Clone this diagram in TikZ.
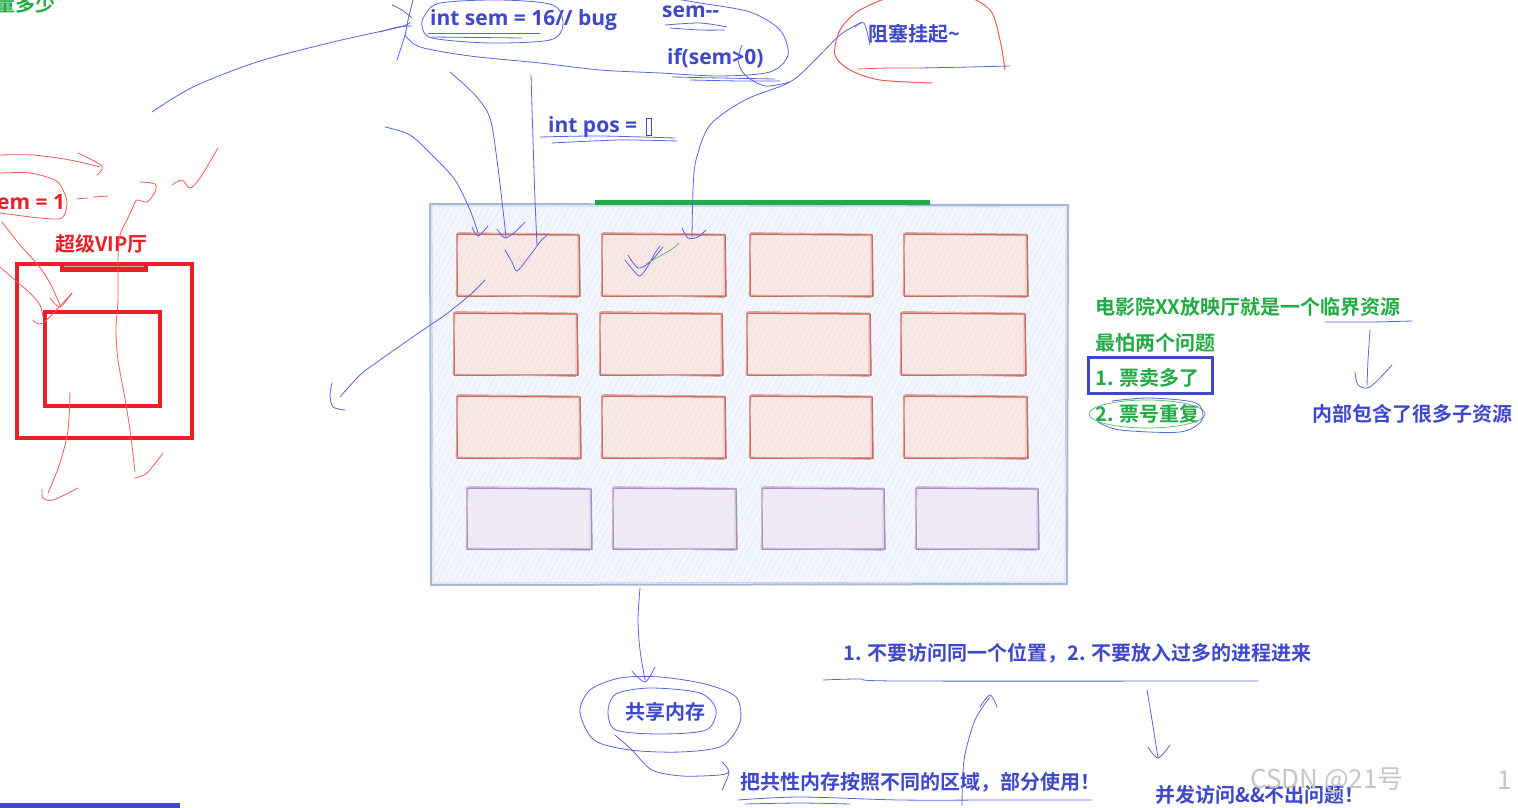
\documentclass[tikz,border=0pt]{standalone}
\usepackage{fontspec}
\setmainfont{Noto Sans CJK SC}[BoldFont={Noto Sans CJK SC Bold}]
\newfontfamily\latinf{Open Sans}
\usetikzlibrary{patterns.meta}
\definecolor{tblue}{RGB}{62,72,204}
\definecolor{tgreen}{RGB}{34,170,68}
\definecolor{tred}{RGB}{232,32,40}
\definecolor{sblue}{RGB}{88,100,224}
\definecolor{sred}{RGB}{240,90,90}
\definecolor{bigfill}{RGB}{243,247,253}
\definecolor{bigline}{RGB}{165,185,215}
\definecolor{redline}{RGB}{200,105,95}
\definecolor{redfill}{RGB}{250,232,230}
\definecolor{purline}{RGB}{170,140,190}
\definecolor{purfill}{RGB}{238,235,246}
\definecolor{gbar}{RGB}{34,172,72}
\newcommand\skbox[6]{%
  \fill[#6] (#1,#2) rectangle (#3,#4);
  \fill[pattern={Lines[angle=62,distance=5pt,line width=0.5pt]},pattern color={#5!22}] (#1,#2) rectangle (#3,#4);
  \draw[#5,line width=1.5pt,line join=round] (#1,#2) -- (#3,#2+1) -- (#3+1,#4) -- (#1,#4) -- cycle;
  \draw[#5!60,line width=0.8pt,line join=round] (#1+1,#2-1.5) -- (#3-1,#2) -- (#3-1,#4+1.5) -- (#1-1,#4-1) -- cycle;
}
\begin{document}
\begin{tikzpicture}[x=1pt,y=-1pt,
  txt/.style={font=\bfseries\fontsize{20}{22}\selectfont,inner sep=0pt,anchor=west},
  ltxt/.style={font=\latinf\bfseries\fontsize{21}{24}\selectfont,inner sep=0pt,anchor=west},
  sk/.style={sblue,line width=0.8pt,line cap=round,line join=round},
  skr/.style={sred,line width=0.8pt,line cap=round,line join=round},
  skg/.style={tgreen!80,line width=0.7pt,line cap=round,line join=round}]
\useasboundingbox[fill=white] (0,0) rectangle (1518,808);

% ---- big hall ----
\fill[bigfill] (430,204) rectangle (1068,585);
\fill[pattern={Lines[angle=62,distance=5pt,line width=0.4pt]},pattern color={bigline!35}] (430,204) rectangle (1068,585);
\draw[bigline,line width=2pt] (430,204) -- (1068,205) -- (1067,584) -- (431,585) -- cycle;
\draw[bigline!60,line width=0.8pt] (432,206) -- (1066,207) -- (1065,582) -- (433,583) -- cycle;
\draw[gbar,line width=5pt] (595,202) -- (930,202);

% seats
\skbox{457}{234}{579}{296}{redline}{redfill}
\skbox{602}{234}{725}{296}{redline}{redfill}
\skbox{750}{234}{872}{296}{redline}{redfill}
\skbox{904}{234}{1027}{296}{redline}{redfill}
\skbox{454}{313}{577}{375}{redline}{redfill}
\skbox{600}{313}{722}{375}{redline}{redfill}
\skbox{747}{313}{870}{375}{redline}{redfill}
\skbox{901}{313}{1025}{375}{redline}{redfill}
\skbox{457}{396}{580}{458}{redline}{redfill}
\skbox{602}{396}{725}{458}{redline}{redfill}
\skbox{750}{396}{872}{458}{redline}{redfill}
\skbox{904}{396}{1027}{458}{redline}{redfill}
\skbox{467}{488}{591}{549}{purline}{purfill}
\skbox{613}{488}{736}{549}{purline}{purfill}
\skbox{762}{488}{884}{549}{purline}{purfill}
\skbox{916}{488}{1038}{549}{purline}{purfill}

% ---- VIP hall ----
\draw[tred,line width=4pt] (17,264) rectangle (192,438);
\draw[tred,line width=4pt] (45,312) rectangle (160,406);
\fill[tred] (60,262) rectangle (148,272);
\draw[white!55!tred,line width=1pt] (64,266) -- (144,266);
\fill[tblue] (0,803) rectangle (180,808);

% ---- texts ----
\node[txt,tgreen,anchor=east] (t0) at (56,4) {量多少};
\node[ltxt,tred] (t1) at (-3,202) {em = 1};
\node[txt,tred] (vip) at (55,244) {超级VIP厅};
\node[ltxt,tblue] (isem) at (430,20) {int sem = 16// bug};
\node[ltxt,tblue] (semm) at (662,12) {sem-{}-};
\node[ltxt,tblue] (ifs) at (667,58) {if(sem>0)};
\node[txt,tblue] (zs) at (868,34) {阻塞挂起\textasciitilde};
\node[ltxt,tblue] (ipos) at (548,127) {int pos =};
\draw[tblue,line width=1pt] (646,118) rectangle (651,135);
\node[txt,tgreen] (g1) at (1095,307) {电影院XX放映厅就是一个临界资源};
\node[txt,tgreen] (g2) at (1095,343) {最怕两个问题};
\node[txt,tgreen] (g3) at (1095,378) {1. 票卖多了};
\node[txt,tgreen] (g4) at (1095,414) {2. 票号重复};
\draw[tblue,line width=3pt] (1088,357) rectangle (1212,393);
\node[txt,tblue] (sub) at (1312,414) {内部包含了很多子资源};
\node[txt,tblue] (rule) at (843,653) {1. 不要访问同一个位置，2. 不要放入过多的进程进来};
\node[txt,tblue] (shm) at (625,712) {共享内存};
\node[txt,tblue] (part) at (740,782) {把共性内存按照不同的区域，部分使用！};
\node[txt,tblue] (conc) at (1155,795) {并发访问\&\&不出问题！};
\node[font=\fontsize{26}{28}\selectfont,gray!45,anchor=west,inner sep=0pt] (wm) at (1250,780) {CSDN @21号};
\node[font=\fontsize{26}{28}\selectfont,gray!45,anchor=west,inner sep=0pt] (wm2) at (1497,780) {1};

% ---- blue sketch strokes ----
\draw[sk] plot[smooth] coordinates {(152,112) (193,87) (257,62) (333,42) (400,27) (410,22)};
\draw[sk] plot[smooth] coordinates {(413,0) (408,20) (405,35) (397,60)};
\draw[sk] plot[smooth] coordinates {(392,5) (402,10) (412,18)};
\draw[sk] plot[smooth] coordinates {(380,32) (398,27) (412,26)};
\draw[sk] plot[smooth cycle] coordinates {(425,15) (440,3) (500,0) (553,5) (563,25) (550,40) (490,43) (432,38) (422,26)};
\draw[sk] (428,33) -- (540,33);
\draw[sk] (432,37) -- (522,38);
\draw[sk] plot[smooth] coordinates {(405,35) (420,47) (470,56) (540,63) (600,70) (660,73) (720,76) (770,72) (788,55) (780,30) (750,12) (700,3) (670,-2)};
\draw[sk] plot[smooth] coordinates {(665,25) (700,23) (727,27)};
\draw[sk] plot[smooth] coordinates {(670,28) (700,30) (725,30)};
\draw[sk] plot[smooth] coordinates {(672,77) (720,78) (775,79)};
\draw[sk] plot[smooth] coordinates {(690,80) (740,81) (780,81)};
\draw[sk] plot[smooth] coordinates {(742,45) (738,60) (745,75) (765,86) (790,82)};
\draw[sk] plot[smooth] coordinates {(540,137) (600,136) (675,138)};
\draw[sk] plot[smooth] coordinates {(552,143) (620,140) (677,141)};
% arrows into seats
\draw[sk] plot[smooth] coordinates {(531,75) (533,140) (535,200) (537,245)};
\draw[sk] plot[smooth] coordinates {(505,250) (512,262) (517,271) (528,258) (540,242) (547,235)};
\draw[sk] plot[smooth] coordinates {(450,72) (475,95) (490,118) (497,160) (503,210) (506,237)};
\draw[sk] plot[smooth] coordinates {(497,229) (505,238) (515,232) (525,222)};
\draw[sk] plot[smooth] coordinates {(385,127) (410,135) (434,157) (455,180) (470,210) (478,233)};
\draw[sk] plot[smooth] coordinates {(472,227) (478,236) (488,226)};
\draw[sk] plot[smooth] coordinates {(692,237) (693,190) (696,160) (710,125) (745,100) (790,82) (815,60) (840,35) (862,22)};
\draw[sk] plot[smooth] coordinates {(855,27) (864,23) (870,45)};
\draw[sk] plot[smooth] coordinates {(682,228) (688,238) (698,237) (706,230)};
\draw[sk] plot[smooth] coordinates {(920,68) (970,67) (1010,66)};
\draw[sk] plot[smooth] coordinates {(485,280) (470,295) (445,315) (420,332) (380,360) (360,375) (340,397)};
\draw[sk] plot[smooth] coordinates {(332,383) (330,395) (333,407) (345,410)};
% tick in seat 2
\draw[sk] plot[smooth] coordinates {(625,260) (633,270) (640,276) (648,266) (655,253) (660,246)};
\draw[sk] plot[smooth] coordinates {(628,255) (638,268) (650,262) (663,247)};
\draw[skg] plot[smooth] coordinates {(646,264) (660,256) (672,249) (679,243)};
% shared memory
\draw[sk] plot[smooth] coordinates {(640,588) (638,620) (640,650) (645,680)};
\draw[sk] plot[smooth] coordinates {(632,671) (645,682) (655,667)};
\draw[sk] plot[smooth cycle] coordinates {(580,712) (590,690) (620,678) (660,677) (705,684) (736,697) (740,722) (722,746) (680,752) (630,750) (594,740)};
\draw[sk] plot[smooth cycle] coordinates {(608,712) (616,694) (650,688) (700,693) (716,710) (706,730) (660,734) (616,730)};
\draw[sk] plot[smooth] coordinates {(615,735) (632,750) (652,770) (682,776) (720,775) (729,772)};
\draw[sk] plot[smooth] coordinates {(722,762) (729,772) (722,790)};
\draw[sk] plot[smooth] coordinates {(738,800) (800,797) (900,800) (1000,800) (1092,800)};
\draw[sk] plot[smooth] coordinates {(745,804) (800,803) (850,804)};
\draw[sk] plot[smooth] coordinates {(962,806) (964,760) (975,720) (990,697)};
\draw[sk] plot[smooth] coordinates {(980,707) (990,695) (997,707)};
\draw[sk] plot[smooth] coordinates {(1147,690) (1152,720) (1158,758)};
\draw[sk] plot[smooth] coordinates {(1148,747) (1158,758) (1170,745)};
\draw[sk] plot[smooth] coordinates {(823,680) (860,679) (900,681) (1258,681)};
% right side
\draw[sk] plot[smooth] coordinates {(1325,322) (1370,322) (1412,321)};
\draw[sk] plot[smooth] coordinates {(1370,330) (1368,360) (1367,385)};
\draw[sk] plot[smooth] coordinates {(1355,372) (1358,385) (1370,387) (1392,365)};
\draw[skg] (1147,414) ellipse [x radius=58,y radius=14];
\draw[sk] plot[smooth] coordinates {(1098,422) (1120,430) (1180,432) (1202,420) (1196,403) (1150,398) (1112,401)};

% ---- red sketch strokes ----
\draw[sred,line width=1pt] plot[smooth] coordinates {(1005,70) (1000,40) (990,10) (960,-5) (900,-5) (860,10) (840,30) (835,55) (850,70) (880,80) (932,83)};
\draw[skr] plot[smooth] coordinates {(857,69) (890,68) (920,68)};
\draw[skr] plot[smooth] coordinates {(0,155) (33,155) (70,160) (100,167)};
\draw[skr] plot[smooth] coordinates {(78,153) (102,166) (97,175)};
\draw[skr] plot[smooth] coordinates {(0,173) (30,173) (55,180) (63,190) (67,203) (62,218) (40,218) (0,213)};
\draw[skr] (77,199) -- (88,198);
\draw[skr] (93,197) -- (108,196);
\draw[skr] plot[smooth] coordinates {(140,182) (155,184) (155,192) (147,202) (137,200) (133,207) (127,220) (120,235) (118,260) (118,300) (116,330) (118,360) (124,393) (130,430) (135,472)};
\draw[skr] plot[smooth] coordinates {(135,478) (147,473) (163,453)};
\draw[skr] plot[smooth] coordinates {(172,185) (182,180) (190,188) (200,178) (218,148)};
\draw[skr] plot[smooth] coordinates {(2,222) (20,245) (38,265) (50,283) (60,305)};
\draw[skr] plot[smooth] coordinates {(50,298) (60,307) (72,293)};
\draw[skr] plot[smooth] coordinates {(0,267) (15,280) (30,293) (40,305) (43,317)};
\draw[skr] plot[smooth] coordinates {(33,320) (43,323) (72,293)};
\draw[skr] plot[smooth] coordinates {(70,392) (68,430) (60,463) (48,493)};
\draw[skr] plot[smooth] coordinates {(42,489) (43,498) (53,500) (78,488)};
\end{tikzpicture}
\end{document}
